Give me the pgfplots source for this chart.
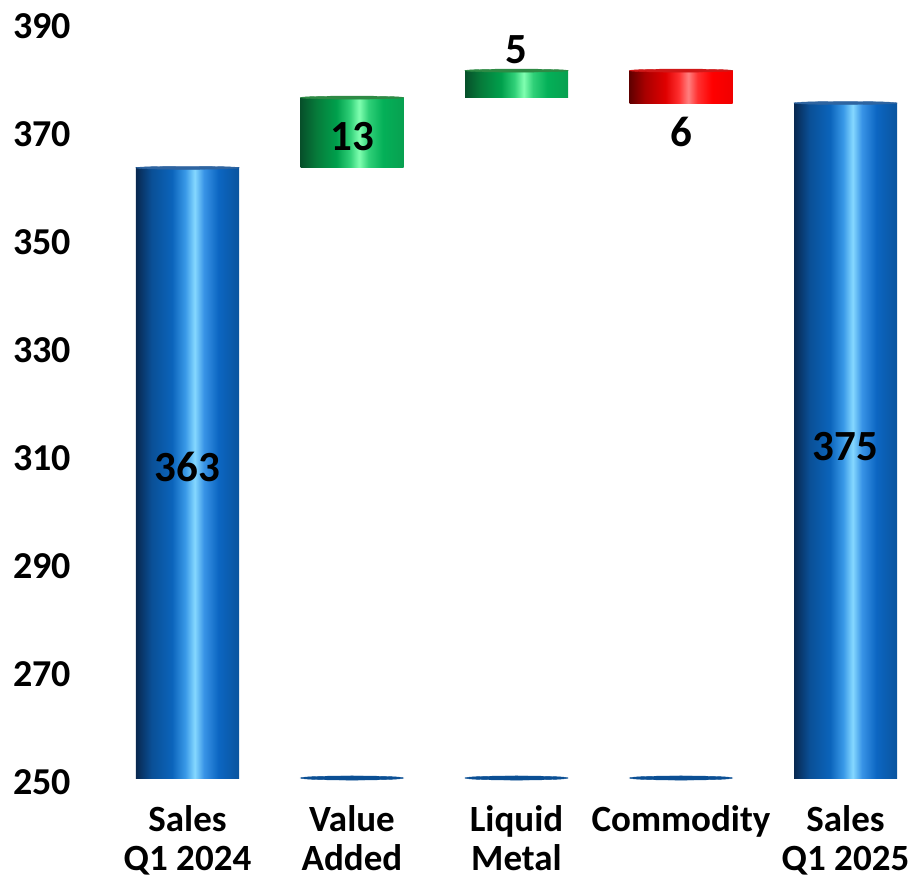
\documentclass[border=0pt]{standalone}
\usepackage{pgfplots}
\pgfplotsset{compat=1.18}
\usepackage{fontspec}
\setmainfont{Carlito}

\definecolor{b0}{HTML}{082850}
\definecolor{b1}{HTML}{0A4F96}
\definecolor{b2}{HTML}{0B64BB}
\definecolor{b3}{HTML}{3A9AE8}
\definecolor{b4}{HTML}{85D8FF}
\definecolor{b5}{HTML}{3893E6}
\definecolor{b6}{HTML}{0C66C2}
\definecolor{b7}{HTML}{0A549E}
\definecolor{g0}{HTML}{06502A}
\definecolor{g1}{HTML}{067A3A}
\definecolor{g2}{HTML}{00A04C}
\definecolor{g3}{HTML}{30D078}
\definecolor{g4}{HTML}{80FFB0}
\definecolor{g5}{HTML}{30D078}
\definecolor{g6}{HTML}{04B058}
\definecolor{g7}{HTML}{08A050}
\definecolor{r0}{HTML}{600000}
\definecolor{r1}{HTML}{A80000}
\definecolor{r2}{HTML}{E00000}
\definecolor{r3}{HTML}{FF3030}
\definecolor{r4}{HTML}{FF8080}
\definecolor{r5}{HTML}{FF3030}
\definecolor{r6}{HTML}{FF0000}
\definecolor{r7}{HTML}{F00000}
\definecolor{diskc}{HTML}{0B4F94}
\definecolor{bcap}{HTML}{2E64A0}
\definecolor{gcap}{HTML}{2E8A45}
\definecolor{rcap}{HTML}{D01818}

\pgfdeclarehorizontalshading{cylblue}{100bp}{color(0bp)=(b0); color(25bp)=(b0); color(32.5bp)=(b1); color(42.5bp)=(b2); color(49bp)=(b3); color(53.5bp)=(b4); color(58bp)=(b5); color(65bp)=(b6); color(75bp)=(b7); color(100bp)=(b7)}
\pgfdeclarehorizontalshading{cylgreen}{100bp}{color(0bp)=(g0); color(25bp)=(g0); color(32.5bp)=(g1); color(42.5bp)=(g2); color(49bp)=(g3); color(53.5bp)=(g4); color(58bp)=(g5); color(65bp)=(g6); color(75bp)=(g7); color(100bp)=(g7)}
\pgfdeclarehorizontalshading{cylred}{100bp}{color(0bp)=(r0); color(25bp)=(r0); color(32.5bp)=(r1); color(42.5bp)=(r2); color(49bp)=(r3); color(53.5bp)=(r4); color(58bp)=(r5); color(65bp)=(r6); color(75bp)=(r7); color(100bp)=(r7)}

\pgfplotsset{wf/.style={scale only axis, width=411.25pt, height=378pt,
  xmin=-0.6, xmax=4.4, ymin=250, ymax=390, enlargelimits=false,
  at={(0pt,0pt)}, anchor=south west},
  flt/.style={wf, hide axis, ybar stacked, bar width=51.5pt}}

\begin{document}
\begin{tikzpicture}
\useasboundingbox (-44.4pt,-51pt) rectangle (413.6pt,389pt);
% totals
\begin{axis}[wf, ybar, bar width=51.5pt, bar shift=0pt,
  axis line style={draw=none}, tick style={draw=none},
  xtick={0,1,2,3,4},
  xticklabels={{Sales\\Q1 2024},{Value\\Added},{Liquid\\Metal},{Commodity},{Sales\\Q1 2025}},
  ytick={250,270,...,390},
  /pgf/number format/assume math mode=true,
  tick label style={text=black},
  xticklabel style={align=center, font=\bfseries\fontsize{18.5}{19.5}\selectfont, yshift=-6pt},
  yticklabel style={font=\bfseries\fontsize{19}{21}\selectfont, yshift=-2pt, xshift=-5.4pt}]
\addplot[draw=none, shading=cylblue] coordinates {(0,363)};
\addplot[draw=none, shading=cylblue] coordinates {(4,375)};
\end{axis}
% Value Added
\begin{axis}[flt]
\addplot[draw=none, fill=none] coordinates {(1,363)};
\addplot[draw=none, shading=cylgreen] coordinates {(1,13)};
\end{axis}
% Liquid Metal
\begin{axis}[flt]
\addplot[draw=none, fill=none] coordinates {(2,376)};
\addplot[draw=none, shading=cylgreen] coordinates {(2,5)};
\end{axis}
% Commodity
\begin{axis}[flt]
\addplot[draw=none, fill=none] coordinates {(3,375)};
\addplot[draw=none, shading=cylred] coordinates {(3,6)};
\end{axis}
% caps and labels
\begin{axis}[wf, hide axis, clip=false]
\addplot[only marks, mark=*, mark size=25.75pt, mark options={yscale=0.04, fill=diskc, draw=diskc, line width=0.2pt}] coordinates {(1,250) (2,250) (3,250)};
\addplot[only marks, mark=*, mark size=25.75pt, mark options={yscale=0.03, fill=bcap, draw=bcap, line width=0.2pt}] coordinates {(0,363) (4,375)};
\addplot[only marks, mark=*, mark size=25.75pt, mark options={yscale=0.03, fill=gcap, draw=gcap, line width=0.2pt}] coordinates {(1,376) (2,381)};
\addplot[only marks, mark=*, mark size=25.75pt, mark options={yscale=0.03, fill=rcap, draw=rcap, line width=0.2pt}] coordinates {(3,381)};
\addplot[draw=none, mark=none, nodes near coords, point meta=explicit symbolic,
  nodes near coords align=center,
  every node near coord/.append style={font=\bfseries\fontsize{21.5}{24}\selectfont, text=black, anchor=center}]
  coordinates {(0,307.6)[363] (1,368.8)[13] (2,384.9)[5] (3,369.6)[6] (4,311.3)[375]};
\end{axis}
\end{tikzpicture}
\end{document}
